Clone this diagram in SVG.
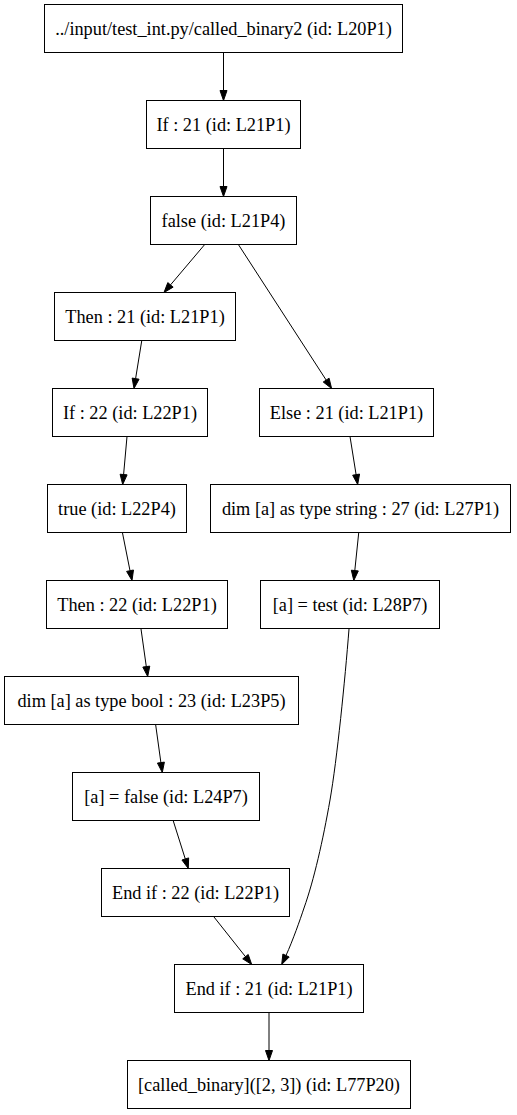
<svg xmlns="http://www.w3.org/2000/svg" width="517" height="1115" viewBox="0 0 517 1115">
<style>
.n rect{fill:#fff;stroke:#000;stroke-width:1}
.n text{font-family:"Liberation Serif","Times New Roman",serif;font-size:18.3px;text-anchor:middle;fill:#000}
.e path{fill:none;stroke:#000;stroke-width:1}
.e polygon{fill:#000;stroke:#000;stroke-width:1}
</style>
<rect x="0" y="0" width="517" height="1115" fill="#fff"/>
<g id="connectors" class="e">
<path d="M223.5,52.5 L223.5,90.5"/><polygon points="220,90.5 223.5,100.5 227,90.5"/>
<path d="M223.5,148.5 L223.5,186.5"/><polygon points="220,186.5 223.5,196.5 227,186.5"/>
<path d="M204.3,245 L170.5,284.9"/><polygon points="173.14,287.15 164,292.5 167.8,282.62"/>
<path d="M238.7,245 L326.2,380.1"/><polygon points="329.1,378.21 331.6,388.5 323.23,382.01"/>
<path d="M141.7,341 L135.6,378.6"/><polygon points="139.05,379.19 134,388.5 132.15,378.07"/>
<path d="M127,436.5 L123.6,474.5"/><polygon points="127.08,474.85 122.7,484.5 120.1,474.23"/>
<path d="M350,436.5 L356.1,474.6"/><polygon points="359.57,474.07 357.7,484.5 352.66,475.18"/>
<path d="M122.5,533 L130,570.7"/><polygon points="133.47,570.01 132,580.5 126.61,571.38"/>
<path d="M358.7,533 L354.8,570.5"/><polygon points="358.31,570.91 353.8,580.5 351.35,570.19"/>
<path d="M141,629 L146.3,666.6"/><polygon points="149.77,666.11 147.7,676.5 142.83,667.09"/>
<path d="M155.7,725 L160.9,762.6"/><polygon points="164.39,762.12 162.3,772.5 157.45,763.08"/>
<path d="M173.3,821 L185.3,859"/><polygon points="188.63,857.91 188.3,868.5 181.95,860.01"/>
<path d="M214,917 L245.5,956.7"/><polygon points="248.22,954.49 251.7,964.5 242.74,958.85"/>
<path d="M349,629 C345,680 337,760 330,800 C323,840 314,880 304,908 C300,920 293,940 286,955.5"/><polygon points="289.2,957 281.7,964.5 282.9,954"/>
<path d="M269,1013 L269,1050.5"/><polygon points="265.5,1050.5 269,1060.5 272.5,1050.5"/>
</g>
<g id="n1" class="n"><rect x="44.5" y="4.5" width="358" height="48"/><text x="223.5" y="35">../input/test_int.py/called_binary2 (id: L20P1)</text></g>
<g id="n2" class="n"><rect x="146.5" y="100.5" width="154" height="48"/><text x="223.5" y="131">If : 21 (id: L21P1)</text></g>
<g id="n3" class="n"><rect x="150.5" y="196.5" width="146" height="48"/><text x="223.5" y="227">false (id: L21P4)</text></g>
<g id="n4" class="n"><rect x="54.5" y="292.5" width="181" height="48"/><text x="145" y="323">Then : 21 (id: L21P1)</text></g>
<g id="n5" class="n"><rect x="52.5" y="388.5" width="155" height="48"/><text x="130" y="419">If : 22 (id: L22P1)</text></g>
<g id="n6" class="n"><rect x="259.5" y="388.5" width="174" height="48"/><text x="346.5" y="419">Else : 21 (id: L21P1)</text></g>
<g id="n7" class="n"><rect x="47.5" y="484.5" width="139" height="48"/><text x="117" y="515">true (id: L22P4)</text></g>
<g id="n8" class="n"><rect x="210.5" y="484.5" width="300" height="48"/><text x="360.5" y="515">dim [a] as type string : 27 (id: L27P1)</text></g>
<g id="n9" class="n"><rect x="46.5" y="580.5" width="181" height="48"/><text x="137" y="611">Then : 22 (id: L22P1)</text></g>
<g id="n10" class="n"><rect x="260.5" y="580.5" width="179" height="48"/><text x="350" y="611">[a] = test (id: L28P7)</text></g>
<g id="n11" class="n"><rect x="4.5" y="676.5" width="294" height="48"/><text x="151.5" y="707">dim [a] as type bool : 23 (id: L23P5)</text></g>
<g id="n12" class="n"><rect x="72.5" y="772.5" width="187" height="48"/><text x="166" y="803">[a] = false (id: L24P7)</text></g>
<g id="n13" class="n"><rect x="101.5" y="868.5" width="188" height="48"/><text x="195.5" y="899">End if : 22 (id: L22P1)</text></g>
<g id="n14" class="n"><rect x="174.5" y="964.5" width="189" height="48"/><text x="269" y="995">End if : 21 (id: L21P1)</text></g>
<g id="n15" class="n"><rect x="127.5" y="1060.5" width="283" height="48"/><text x="269" y="1091">[called_binary]([2, 3]) (id: L77P20)</text></g>
</svg>
